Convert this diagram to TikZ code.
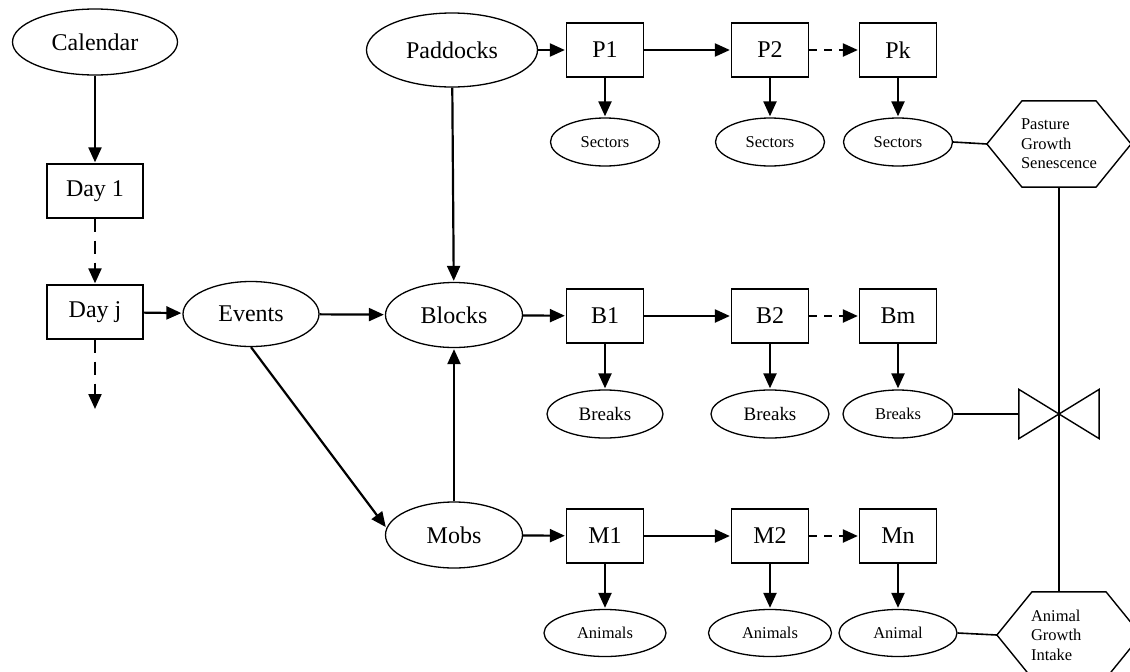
\documentclass[tikz,border=0pt]{standalone}
\usepackage{fontspec}
\setmainfont{Liberation Serif}
\usetikzlibrary{arrows.meta,shapes.geometric}

\begin{document}
\begin{tikzpicture}[x=1pt,y=-1pt,->,>={Triangle[length=15pt,width=13pt]},shorten >=1pt,
  line width=2.2pt,
  main node/.style={ellipse,draw,line width=1.3pt,inner sep=0pt,font=\fontsize{24}{28}\selectfont},
  sub node/.style={ellipse,draw,line width=1.3pt,inner sep=0pt,minimum height=48pt,font=\fontsize{16.5}{19.5}\selectfont},
  rec node/.style={rectangle,draw,line width=1.3pt,inner sep=0pt,minimum width=77pt,minimum height=54pt,font=\fontsize{24}{28}\selectfont},
  hex node/.style={inner sep=0pt,minimum width=142pt,minimum height=84pt,text width=76pt,align=left,font=\fontsize{16.5}{19.5}\selectfont},
  valve node/.style={inner sep=0pt,minimum width=78pt,minimum height=47pt}]

  \clip (0,0) rectangle (1130,672);

  % left column
  \node[main node,minimum width=165pt,minimum height=66pt] (calendar) at (95,42) {Calendar};
  \node[rec node,minimum width=96pt] (day1) at (95,191) {Day 1};
  \node[rec node,minimum width=96pt] (dayj) at (95,312) {Day j};
  \coordinate (dayend) at (95,410);
  \node[main node,minimum width=136pt,minimum height=65pt] (events) at (251,314) {Events};

  \node[main node,minimum width=171pt,minimum height=74pt] (paddocks) at (452,50) {Paddocks};
  \node[main node,minimum width=137pt,minimum height=65pt] (blocks) at (454,315) {Blocks};
  \node[main node,minimum width=137pt,minimum height=66pt] (mobs) at (454,535) {Mobs};

  % paddocks
  \node[rec node] (p1) at (605,50) {P1};
  \node[rec node] (p2) [right of=p1,node distance=165pt] {P2};
  \node[rec node] (pk) [right of=p2,node distance=128pt] {Pk};
  \node[sub node,minimum width=109pt] (s1) [below of=p1,node distance=92pt] {Sectors};
  \node[sub node,minimum width=109pt] (s2) [below of=p2,node distance=92pt] {Sectors};
  \node[sub node,minimum width=109pt] (s3) [below of=pk,node distance=92pt] {Sectors};

  % blocks
  \node[rec node] (b1) at (605,316) {B1};
  \node[rec node] (b2) [right of=b1,node distance=165pt] {B2};
  \node[rec node] (bm) [right of=b2,node distance=128pt] {Bm};
  \node[sub node,minimum width=116pt,font=\fontsize{19}{22}\selectfont] (br1) [below of=b1,node distance=98pt] {Breaks};
  \node[sub node,minimum width=118pt,font=\fontsize{19}{22}\selectfont] (br2) [below of=b2,node distance=98pt] {Breaks};
  \node[sub node,minimum width=110pt] (br3) [below of=bm,node distance=98pt] {Breaks};

  % mobs
  \node[rec node] (m1) at (605,536) {M1};
  \node[rec node] (m2) [right of=m1,node distance=165pt] {M2};
  \node[rec node] (mn) [right of=m2,node distance=128pt] {Mn};
  \node[sub node,minimum width=122pt,minimum height=47pt] (an1) [below of=m1,node distance=97pt] {Animals};
  \node[sub node,minimum width=123pt,minimum height=47pt] (an2) [below of=m2,node distance=97pt] {Animals};
  \node[sub node,minimum width=118pt,minimum height=47pt] (an3) [below of=mn,node distance=97pt] {Animal};

  % process symbols on the right
  \node[hex node] (pasture) at (1059,144) {Pasture\\Growth\\Senescence};
  \node[hex node] (growth) at (1069,635) {Animal\\Growth\\Intake};
  \node[valve node] (valve) at (pasture.south |- br3) {};

  \foreach \h in {pasture,growth}
    \draw[-,shorten >=0pt,line width=1.4pt] (\h.west) -- ([xshift=35pt]\h.north west)
      -- ([xshift=-35pt]\h.north east) -- (\h.east) -- ([xshift=-35pt]\h.south east)
      -- ([xshift=35pt]\h.south west) -- cycle;
  \draw[-,shorten >=0pt,line width=1.4pt] (valve.north west) -- (valve.south west)
    -- (valve.north east) -- (valve.south east) -- cycle;

  \path[-,shorten >=0pt,line width=1.6pt]
    (s3.east) edge (pasture.west)
    (br3.east) edge (valve.west)
    (an3.east) edge (growth.west)
    (pasture.south) edge (pasture.south |- growth.north)
    ;

  \path
    (calendar) edge (day1)
    (day1) edge[dash pattern=on 13pt off 9pt] (dayj)
    (dayj) edge[dash pattern=on 13pt off 9pt] (dayend)
    (dayj) edge (events)
    (events) edge (blocks)
    (events.south) edge (mobs.174)
    (paddocks) edge (blocks)
    (mobs) edge (blocks)
    (paddocks) edge (p1)
    (p1) edge (p2)
    (p2) edge[dash pattern=on 8pt off 7pt] (pk)
    (blocks) edge (b1)
    (b1) edge (b2)
    (b2) edge[dash pattern=on 8pt off 7pt] (bm)
    (mobs) edge (m1)
    (m1) edge (m2)
    (m2) edge[dash pattern=on 8pt off 7pt] (mn)
    (p1) edge (s1)
    (p2) edge (s2)
    (pk) edge (s3)
    (b1) edge (br1)
    (b2) edge (br2)
    (bm) edge (br3)
    (m1) edge (an1)
    (m2) edge (an2)
    (mn) edge (an3)
    ;

\end{tikzpicture}
\end{document}
